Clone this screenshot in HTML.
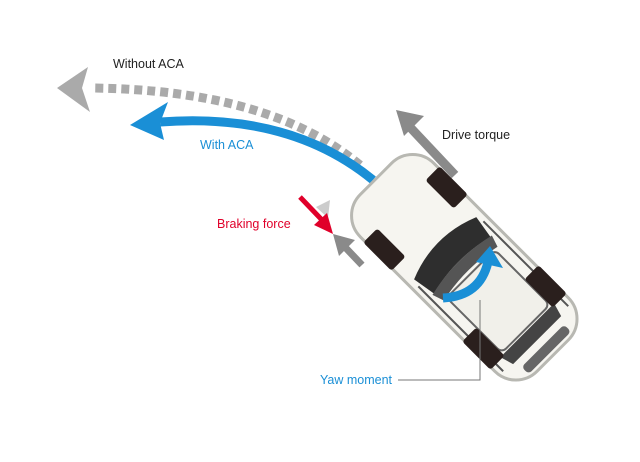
<!DOCTYPE html>
<html><head><style>
html,body{margin:0;padding:0;background:#fff;}
.t{font-family:"Liberation Sans",sans-serif;font-size:12.5px;}
</style></head><body>
<svg width="640" height="457" viewBox="0 0 640 457" xmlns="http://www.w3.org/2000/svg">
<path d="M360,165 Q270,90 92,88" fill="none" stroke="#aaa" stroke-width="9" stroke-dasharray="8,5"/>
<polygon points="57,88 88,67 82,88 90,112" fill="#aaa"/>
<text x="113" y="68" class="t" fill="#222">Without ACA</text>
<path d="M373,180 Q290,112 160,122" fill="none" stroke="#1a8fd6" stroke-width="9"/>
<polygon points="130,125 168,102 160,123 164,140" fill="#1a8fd6"/>
<text x="200" y="149" class="t" fill="#1a8fd6">With ACA</text>
<line x1="455" y1="175" x2="408" y2="125" stroke="#8a8a8a" stroke-width="9"/>
<polygon points="396,110 424,116 404,136" fill="#8a8a8a"/>
<text x="442" y="139" class="t" fill="#222">Drive torque</text>
<polygon points="316,207 330,200 328,218" fill="#ccc"/>
<line x1="300" y1="197" x2="322" y2="220" stroke="#e0002a" stroke-width="5"/>
<polygon points="333,234 314,225 327,213" fill="#e0002a"/>
<text x="217" y="228" class="t" fill="#e0002a">Braking force</text>
<line x1="362" y1="265" x2="343" y2="245" stroke="#8a8a8a" stroke-width="7"/>
<polygon points="333,234 355,240 339,256" fill="#8a8a8a"/>
<g transform="translate(465,268) rotate(-45)">
<rect x="-52" y="-126" width="104" height="250" rx="30" fill="#f6f5f0" stroke="#b8b8b2" stroke-width="3"/>
<path d="M-44,-28 Q0,-46 44,-28 L40,-4 Q0,-14 -40,-4 Z" fill="#2e2e2e"/>
<path d="M-42,-4 Q0,-14 42,-4 L38,8 Q0,0 -38,8 Z" fill="#555"/>
<rect x="-34" y="8" width="68" height="78" rx="6" fill="#f1f0ea" stroke="#666" stroke-width="2"/>
<path d="M-38,88 L38,88 L34,102 L-34,102 Z" fill="#444"/>
<line x1="-46" y1="-20" x2="-46" y2="100" stroke="#555" stroke-width="2"/>
<line x1="46" y1="-20" x2="46" y2="100" stroke="#555" stroke-width="2"/>
<rect x="-30" y="110" width="60" height="10" rx="4" fill="#666"/>
<rect x="-54" y="-90" width="20" height="40" rx="3" fill="#2a1f1d"/>
<rect x="34" y="-90" width="20" height="40" rx="3" fill="#2a1f1d"/>
<rect x="-54" y="50" width="20" height="40" rx="3" fill="#2a1f1d"/>
<rect x="34" y="50" width="20" height="40" rx="3" fill="#2a1f1d"/>
</g>
<path d="M443,298 Q480,296 488,262" fill="none" stroke="#1a8fd6" stroke-width="9"/>
<polygon points="490,246 503,268 476,262" fill="#1a8fd6"/>
<polyline points="398,380 480,380 480,300" fill="none" stroke="#777" stroke-width="1"/>
<text x="320" y="384" class="t" fill="#1a8fd6">Yaw moment</text>
</svg>
</body></html>
